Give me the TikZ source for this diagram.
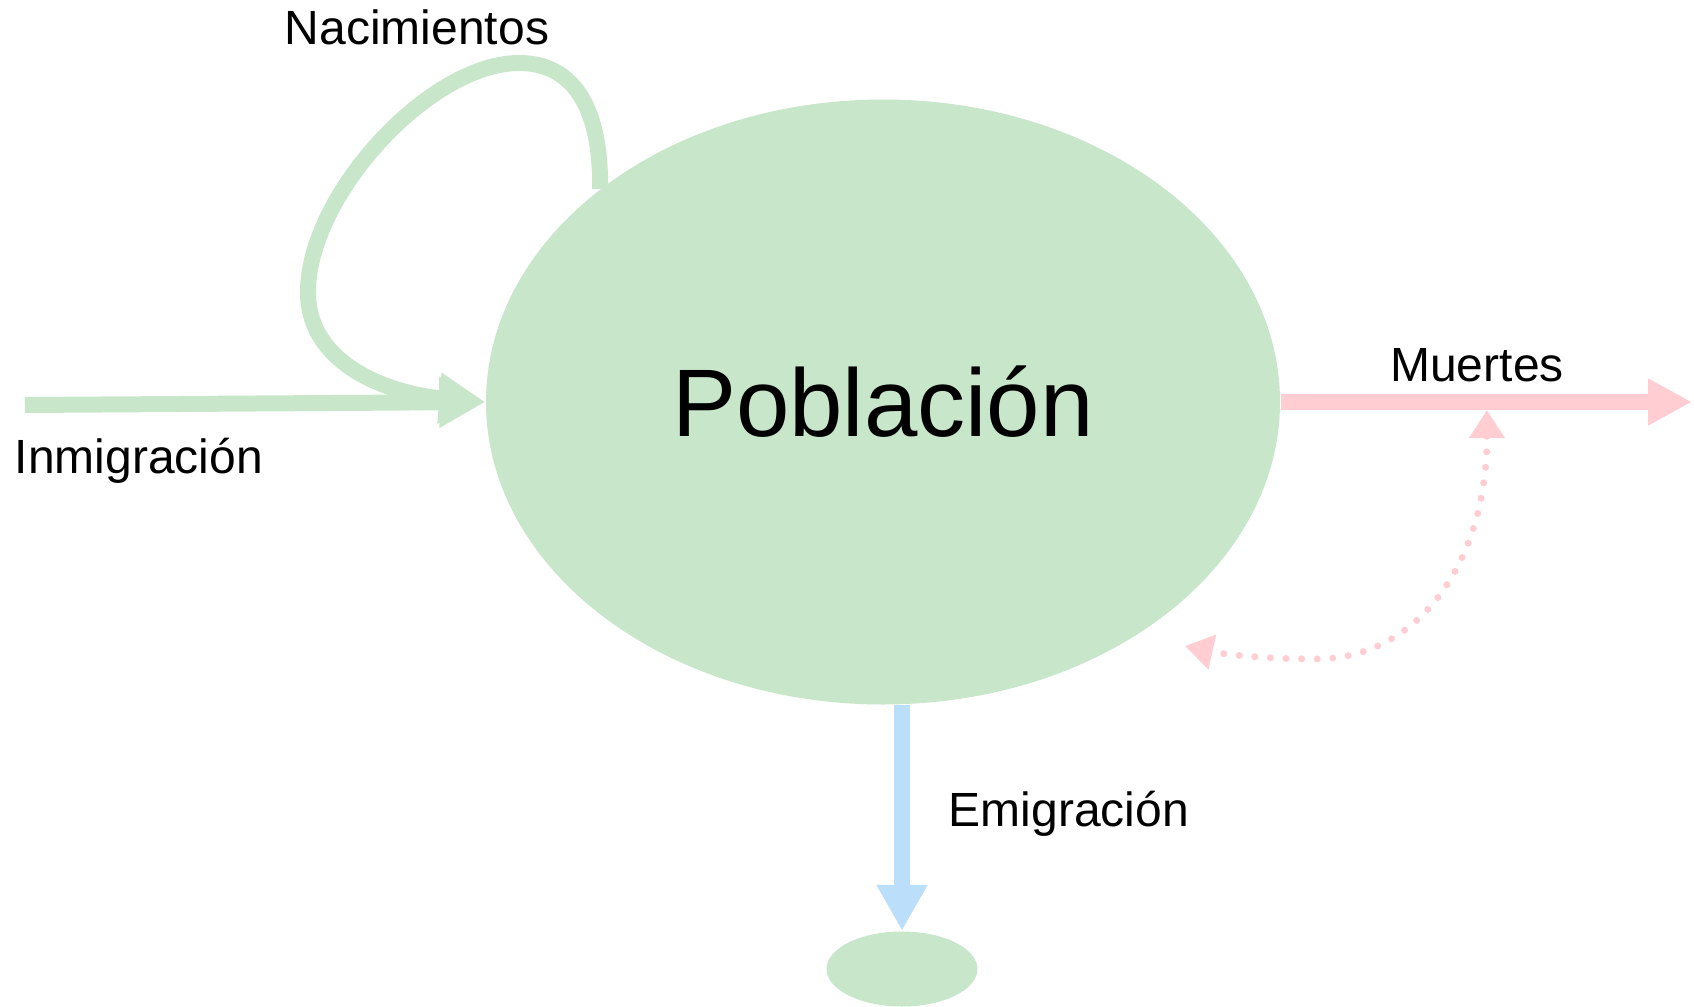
\documentclass[tikz,border=0pt]{standalone}
\usepackage{fontspec}
\setmainfont{Liberation Sans}
\usetikzlibrary{arrows.meta,shapes.geometric}
\definecolor{popgreen}{RGB}{200,230,201}
\definecolor{deathpink}{RGB}{255,205,210}
\definecolor{emiblue}{RGB}{187,222,251}

\tikzset{every picture/.style={line width=0.75pt}}
\tikzset{
  flow/.style={line width=8pt, draw=#1, -{Triangle[length=23pt,width=24pt,fill=#1]}},
  stock/.style={ellipse, fill=popgreen, inner sep=0pt},
  lbl/.style={inner sep=0pt, font=\fontsize{24}{29}\selectfont},
}

\begin{document}
\begin{tikzpicture}[x=0.5pt,y=0.5pt,yscale=-1]
	\useasboundingbox (0,0) rectangle (1694,1007);
	
	%Ellipse [stock]
	\node (pob) [stock, minimum width=397pt, minimum height=302.5pt] at (883,402) {};
	%Ellipse [sink]
	\node (sink) [stock, minimum width=75.5pt, minimum height=37.5pt] at (902,969) {};
	
	\coordinate (inmi) at (25,405);
	\coordinate (muer) at (1692,402);
	\coordinate (mpt) at (1487,410);
	\coordinate (dtip) at (1185,646);
	
	%Straight Lines [inmigracion]
	\draw [flow=popgreen] (inmi) -- (pob.west);
	%Curve Lines [nacimientos]
	\draw [flow=popgreen] (pob.143) .. controls (601,110) and (575,63) .. (519,63) .. controls (430,63) and (308,195) .. (308,292) .. controls (308,370) and (400,395) .. (pob.west);
	%Straight Lines [muertes]
	\draw [line width=8pt, draw=deathpink, -{Triangle[length=22pt,width=22pt,fill=deathpink]}] (pob.east) -- (muer);
	%Straight Lines [emigracion]
	\draw [flow=emiblue] (sink.north |- pob.south) -- (sink.north);
	%Curve Lines [dotted]
	\draw [draw=deathpink, line width=3.5pt, line cap=round, dash pattern=on 0pt off 7.8pt, {Triangle[length=14pt,width=17pt,fill=deathpink]}-{Triangle[length=14pt,width=17pt,fill=deathpink]}] (mpt) .. controls (1487,560) and (1420,659) .. (1316,659) .. controls (1250,659) and (1212,652) .. (dtip);
	
	% Text Node
	\node (pobtxt) [anchor=base, inner sep=0pt, font=\fontsize{48}{56}\selectfont] at (883,436) {Población};
	% Text Node
	\node (nac) [lbl] at (417,27) {Nacimientos};
	% Text Node
	\node (inmitxt) [lbl, anchor=base west] at (14,473) {Inmigración};
	% Text Node
	\node (muertxt) [lbl, anchor=base] at (1477,381) {Muertes};
	% Text Node
	\node (emitxt) [lbl, anchor=base west] at (948,826) {Emigración};
	
\end{tikzpicture}
\end{document}
